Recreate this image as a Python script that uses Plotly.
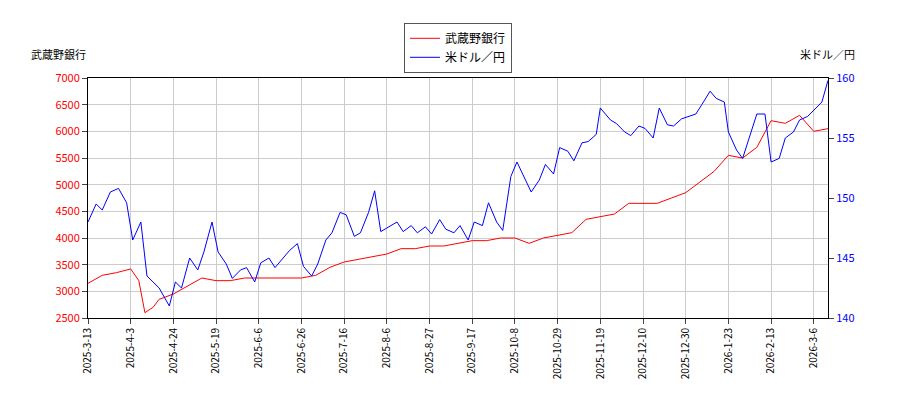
import plotly.graph_objects as go

red_dates = ["2025-03-13","2025-03-20","2025-03-27","2025-04-03","2025-04-07","2025-04-10","2025-04-14","2025-04-17","2025-04-24","2025-05-01","2025-05-08","2025-05-15","2025-05-22","2025-05-29","2025-06-05","2025-06-12","2025-06-19","2025-06-26","2025-07-03","2025-07-10","2025-07-17","2025-07-24","2025-07-31","2025-08-07","2025-08-14","2025-08-21","2025-08-28","2025-09-04","2025-09-11","2025-09-18","2025-09-25","2025-10-02","2025-10-09","2025-10-16","2025-10-23","2025-10-30","2025-11-06","2025-11-13","2025-11-20","2025-11-27","2025-12-04","2025-12-11","2025-12-18","2025-12-25","2026-01-01","2026-01-08","2026-01-15","2026-01-22","2026-01-29","2026-02-05","2026-02-12","2026-02-19","2026-02-26","2026-03-05","2026-03-12"]
red_vals = [3150,3300,3350,3420,3200,2600,2700,2850,2950,3100,3250,3200,3200,3250,3250,3250,3250,3250,3300,3450,3550,3600,3650,3700,3800,3800,3850,3850,3900,3950,3950,4000,4000,3900,4000,4050,4100,4350,4400,4450,4650,4650,4650,4750,4850,5050,5250,5550,5500,5700,6200,6150,6300,6000,6050]

blue_dates = ["2025-03-13","2025-03-17","2025-03-20","2025-03-24","2025-03-28","2025-04-01","2025-04-04","2025-04-08","2025-04-11","2025-04-17","2025-04-22","2025-04-25","2025-04-28","2025-05-02","2025-05-06","2025-05-09","2025-05-13","2025-05-16","2025-05-20","2025-05-23","2025-05-27","2025-05-30","2025-06-03","2025-06-06","2025-06-10","2025-06-13","2025-06-17","2025-06-20","2025-06-24","2025-06-27","2025-07-01","2025-07-04","2025-07-08","2025-07-11","2025-07-15","2025-07-18","2025-07-22","2025-07-25","2025-07-29","2025-08-01","2025-08-04","2025-08-08","2025-08-12","2025-08-15","2025-08-19","2025-08-22","2025-08-26","2025-08-29","2025-09-02","2025-09-05","2025-09-09","2025-09-12","2025-09-16","2025-09-19","2025-09-23","2025-09-26","2025-09-30","2025-10-03","2025-10-07","2025-10-10","2025-10-14","2025-10-17","2025-10-21","2025-10-24","2025-10-28","2025-10-31","2025-11-04","2025-11-07","2025-11-11","2025-11-14","2025-11-18","2025-11-20","2025-11-25","2025-11-28","2025-12-02","2025-12-05","2025-12-09","2025-12-12","2025-12-16","2025-12-19","2025-12-23","2025-12-26","2025-12-30","2026-01-02","2026-01-06","2026-01-09","2026-01-13","2026-01-16","2026-01-20","2026-01-22","2026-01-26","2026-01-29","2026-02-02","2026-02-05","2026-02-09","2026-02-12","2026-02-16","2026-02-19","2026-02-23","2026-02-26","2026-03-02","2026-03-05","2026-03-09","2026-03-12"]
blue_vals = [148,149.5,149,150.5,150.8,149.6,146.5,148,143.5,142.5,141,143,142.5,145,144,145.5,148,145.5,144.5,143.3,144,144.2,143,144.6,145.0,144.2,145.0,145.6,146.2,144.3,143.5,144.5,146.5,147.1,148.8,148.6,146.8,147.1,148.8,150.6,147.2,147.6,148.0,147.2,147.7,147.1,147.6,147.0,148.2,147.4,147.1,147.7,146.5,148.0,147.7,149.6,148.0,147.3,151.8,153.0,151.6,150.5,151.5,152.8,152.0,154.2,153.9,153.1,154.6,154.7,155.3,157.5,156.5,156.2,155.5,155.2,156.0,155.8,155.0,157.5,156.1,156.0,156.6,156.8,157.0,157.8,158.9,158.3,158.0,155.5,154.0,153.3,155.5,157.0,157.0,153.0,153.3,155.0,155.5,156.5,156.8,157.3,158.0,159.8]

tick_vals = ["2025-03-13","2025-04-03","2025-04-24","2025-05-15","2025-06-05","2025-06-26","2025-07-17","2025-08-07","2025-08-28","2025-09-18","2025-10-09","2025-10-30","2025-11-20","2025-12-11","2026-01-01","2026-01-22","2026-02-12","2026-03-05"]
tick_text = ["2025-3-13","2025-4-3","2025-4-24","2025-5-19","2025-6-6","2025-6-26","2025-7-16","2025-8-6","2025-8-27","2025-9-17","2025-10-8","2025-10-29","2025-11-19","2025-12-10","2025-12-30","2026-1-23","2026-2-13","2026-3-6"]

font = "Noto Sans CJK JP"
fig = go.Figure()
fig.add_trace(go.Scatter(x=red_dates, y=red_vals, name="武蔵野銀行", line=dict(color="red", width=1)))
fig.add_trace(go.Scatter(x=blue_dates, y=blue_vals, name="米ドル／円", yaxis="y2", line=dict(color="blue", width=1)))
fig.update_layout(
    width=900, height=400, margin=dict(l=80, r=80, t=70, b=90, autoexpand=False),
    plot_bgcolor="white", paper_bgcolor="white",
    font=dict(family=font, size=11, color="black"),
    legend=dict(x=0.5, y=1.23, xanchor="center", yanchor="top", bordercolor="#555", borderwidth=1,
                bgcolor="white", font=dict(size=12)),
    xaxis=dict(range=["2025-03-13","2026-03-12"], tickvals=tick_vals, ticktext=tick_text, tickangle=-90,
               showgrid=True, gridcolor="#cccccc", showline=True, linecolor="black", mirror=True,
               ticks="outside", tickfont=dict(size=10), automargin=False),
    yaxis=dict(range=[2500,7000], dtick=500, showgrid=True, gridcolor="#cccccc", tickfont=dict(color="red", size=11),
               showline=True, linecolor="black", ticks="outside", automargin=False),
    yaxis2=dict(range=[140,160], dtick=5, overlaying="y", side="right", showgrid=False, automargin=False,
                tickfont=dict(color="blue", size=11), showline=True, linecolor="black", ticks="outside"),
    annotations=[
        dict(text="武蔵野銀行", x=0, y=1.1, xref="paper", yref="paper", xanchor="right", yanchor="middle",
             xshift=0, showarrow=False, font=dict(size=11)),
        dict(text="米ドル／円", x=1, y=1.1, xref="paper", yref="paper", xanchor="left", yanchor="middle",
             xshift=-30, showarrow=False, font=dict(size=11)),
    ],
)
fig.write_html("out.html")
